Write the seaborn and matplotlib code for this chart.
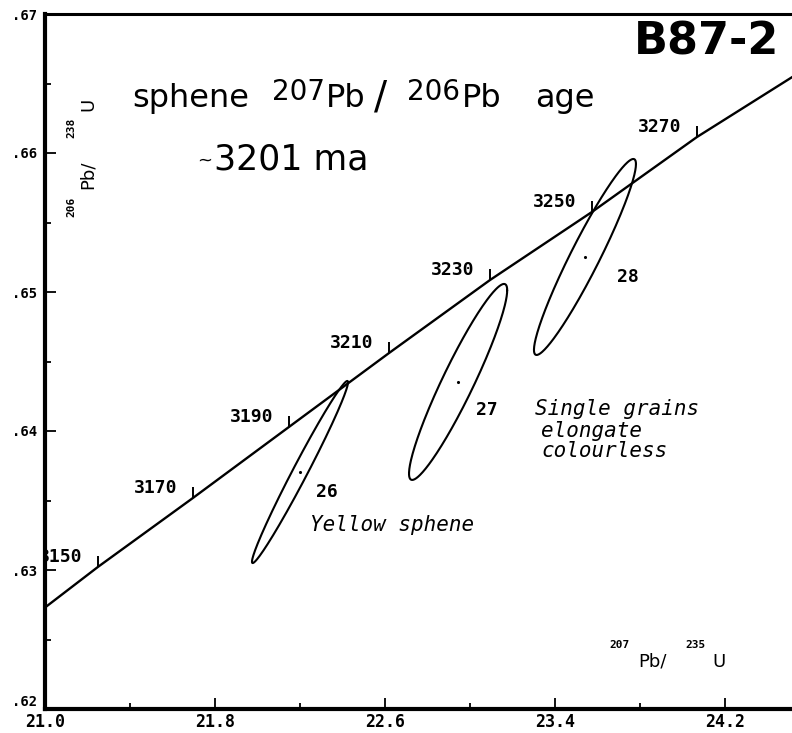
import numpy as np
import pandas as pd
import matplotlib
matplotlib.use("Agg")
import matplotlib.pyplot as plt
import matplotlib.transforms as mtrans
from matplotlib.ticker import FixedLocator
import seaborn as sns

# ---------------- data ----------------
conc_x = [21.0, 21.249, 21.696, 22.148, 22.619, 23.094, 23.574, 24.068, 24.52]
conc_y = [0.6273, 0.63022, 0.63518, 0.64029, 0.64561, 0.65086, 0.65576, 0.66115, 0.6655]

age_labels = ["3150", "3170", "3190", "3210", "3230", "3250", "3270"]
age_x = [21.249, 21.696, 22.148, 22.619, 23.094, 23.574, 24.068]
age_y = [0.63022, 0.63518, 0.64029, 0.64561, 0.65086, 0.65576, 0.66115]

grain_ids = ["26", "27", "28"]
grain_cx = [22.200, 22.944, 23.541]
grain_cy = [0.63705, 0.64353, 0.65252]
grain_sx = [0.226, 0.231, 0.240]
grain_sy = [0.00655, 0.00705, 0.00705]
grain_rho = [0.985, 0.935, 0.948]
grain_lab_x = [22.327, 23.080, 23.744]
grain_lab_y = [0.63560, 0.64151, 0.65108]

xticks = [21.0, 21.8, 22.6, 23.4, 24.2]
xtick_labels = ["21.0", "21.8", "22.6", "23.4", "24.2"]
xminor = [21.4, 22.2, 23.0, 23.8]
yticks = [0.62, 0.63, 0.64, 0.65, 0.66, 0.67]
ytick_labels = [".62", ".63", ".64", ".65", ".66", ".67"]
yminor = [0.625, 0.635, 0.645, 0.655, 0.665]

# ---------------- figure ----------------
sns.set_theme(style="white")
plt.rcParams["font.family"] = ["DejaVu Sans"]
plt.rcParams["text.color"] = "black"
plt.rcParams["xtick.color"] = "black"
plt.rcParams["ytick.color"] = "black"
plt.rcParams["axes.labelcolor"] = "black"

W, H = 792, 733
fig = plt.figure(figsize=(W / 100, H / 100), dpi=100)
ax = fig.add_axes([45 / W, 24 / H, 1 - 45 / W, (709 - 14) / H])
ax.set_xlim(21.0, 21.0 + 747 / 212.5)
ax.set_ylim(0.62, 0.67)

# concordia
sns.lineplot(x=conc_x, y=conc_y, ax=ax, color="black", lw=1.7, sort=False,
             estimator=None)
ax.plot(age_x, age_y, ls="none", marker=2, ms=8, mew=1.4, color="black")

# error ellipses
rows = []
t = np.linspace(0, 2 * np.pi, 300)
for gid, cx, cy, sx, sy, r in zip(grain_ids, grain_cx, grain_cy, grain_sx,
                                  grain_sy, grain_rho):
    ex = cx + sx * np.cos(t)
    ey = cy + sy * (r * np.cos(t) + np.sqrt(1 - r ** 2) * np.sin(t))
    rows.append(pd.DataFrame({"grain": gid, "x": ex, "y": ey}))
ell = pd.concat(rows, ignore_index=True)
sns.lineplot(data=ell, x="x", y="y", units="grain", estimator=None,
             sort=False, color="black", lw=1.5, ax=ax)
sns.scatterplot(x=grain_cx, y=grain_cy, ax=ax, color="black", s=5,
                linewidth=0)

mono = dict(family="DejaVu Sans Mono", weight="bold", color="black")

# age labels
off = mtrans.offset_copy(ax.transData, fig=fig, x=-11, y=7, units="points")
for lab, x, y in zip(age_labels, age_x, age_y):
    ax.text(x, y, lab, transform=off, ha="right", va="center", fontsize=13,
            clip_on=True, **mono)

for gid, x, y in zip(grain_ids, grain_lab_x, grain_lab_y):
    ax.text(x, y, gid, ha="center", va="center", fontsize=13, **mono)

# ticks and spines
ax.xaxis.set_major_locator(FixedLocator(xticks))
ax.xaxis.set_minor_locator(FixedLocator(xminor))
ax.yaxis.set_major_locator(FixedLocator(yticks))
ax.yaxis.set_minor_locator(FixedLocator(yminor))
ax.set_xticklabels(xtick_labels, fontsize=12, **mono)
ax.set_yticklabels(ytick_labels, fontsize=10, **mono)
ax.get_yticklabels()[0].set_va("bottom")
ax.tick_params(axis="both", which="major", direction="in", length=8,
               width=1.3, color="black", bottom=True, left=True)
ax.tick_params(axis="both", which="minor", direction="in", length=4,
               width=1.3, color="black", bottom=True, left=True)
ax.tick_params(axis="x", pad=3)
ax.tick_params(axis="y", pad=6)
for sp in ["left", "bottom"]:
    ax.spines[sp].set_linewidth(3.0)
    ax.spines[sp].set_color("black")
ax.spines["top"].set_linewidth(2.2)
ax.spines["top"].set_color("black")
ax.spines["right"].set_visible(False)
ax.set_xlabel("")
ax.set_ylabel("")


def P(x, y):
    return x / W, 1 - y / H


# headline annotations
fig.text(*P(634, 42), "B87-2", fontsize=32, weight="bold", ha="left",
         va="center", family="DejaVu Sans", color="black")
big = dict(family="DejaVu Sans", va="baseline", ha="left", color="black")
fig.text(*P(132, 107), "sphene", fontsize=23, **big)
fig.text(*P(272, 100), "207", fontsize=20, **big)
fig.text(*P(326, 107), "Pb", fontsize=23, **big)
fig.text(*P(374, 108), "/", fontsize=28, **big)
fig.text(*P(407, 100), "206", fontsize=20, **big)
fig.text(*P(462, 107), "Pb", fontsize=23, **big)
fig.text(*P(535, 107), "age", fontsize=23, **big)
fig.text(*P(197, 166), "~", fontsize=13, **big)
fig.text(*P(214, 170), "3201 ma", fontsize=25, **big)

it = dict(family="DejaVu Sans Mono", style="italic", fontsize=15,
          ha="left", va="center", color="black")
fig.text(*P(535, 409), "Single grains", **it)
fig.text(*P(541, 431), "elongate", **it)
fig.text(*P(541, 451), "colourless", **it)
fig.text(*P(310, 525), "Yellow sphene", **it)

# axis titles
fig.text(*P(88, 104), "U", rotation=90, fontsize=13, ha="center",
         va="center", color="black")
fig.text(*P(71, 128), "238", rotation=90, fontsize=8, ha="center",
         va="center", **mono)
fig.text(*P(88, 175), "Pb/", rotation=90, fontsize=13, ha="center",
         va="center", color="black")
fig.text(*P(71, 207), "206", rotation=90, fontsize=8, ha="center",
         va="center", **mono)

fig.text(*P(620, 645), "207", fontsize=8, ha="center", va="center", **mono)
fig.text(*P(653, 662), "Pb/", fontsize=13, ha="center", va="center",
         color="black")
fig.text(*P(695, 645), "235", fontsize=8, ha="center", va="center", **mono)
fig.text(*P(719, 662), "U", fontsize=13, ha="center", va="center",
         color="black")

fig.savefig("out.png", dpi=100)
